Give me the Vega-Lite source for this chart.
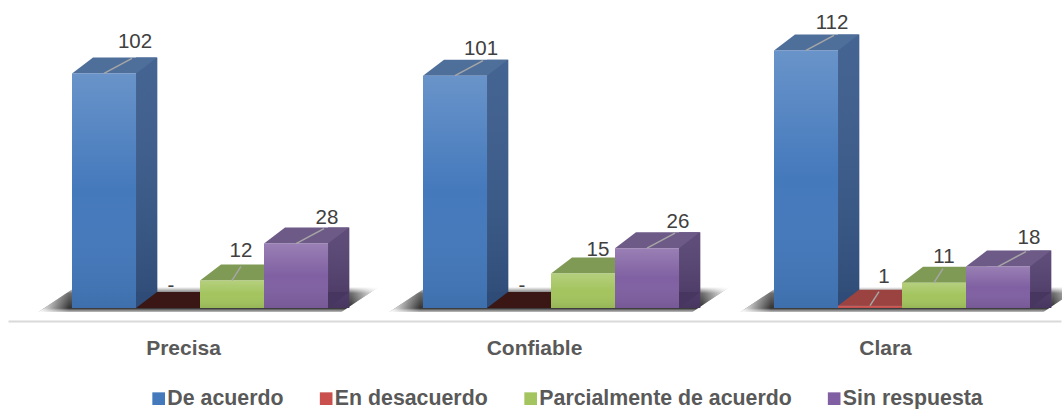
{
"$schema":"https://vega.github.io/schema/vega-lite/v6.json",
"width":1062,"height":321,"autosize":{"type":"none"},"padding":{"left":0,"top":0,"right":0,"bottom":88},
"background":"white","view":{"stroke":null},
"datasets":{"filas":[
{"Categoria":"Precisa","Serie":"De acuerdo","Lado":"De acuerdo (lado)","Valor":102,"Etiqueta":"102"},
{"Categoria":"Precisa","Serie":"En desacuerdo","Lado":"En desacuerdo (lado)","Valor":0,"Etiqueta":"-"},
{"Categoria":"Precisa","Serie":"Parcialmente de acuerdo","Lado":"Parcialmente de acuerdo (lado)","Valor":12,"Etiqueta":"12"},
{"Categoria":"Precisa","Serie":"Sin respuesta","Lado":"Sin respuesta (lado)","Valor":28,"Etiqueta":"28"},
{"Categoria":"Confiable","Serie":"De acuerdo","Lado":"De acuerdo (lado)","Valor":101,"Etiqueta":"101"},
{"Categoria":"Confiable","Serie":"En desacuerdo","Lado":"En desacuerdo (lado)","Valor":0,"Etiqueta":"-"},
{"Categoria":"Confiable","Serie":"Parcialmente de acuerdo","Lado":"Parcialmente de acuerdo (lado)","Valor":15,"Etiqueta":"15"},
{"Categoria":"Confiable","Serie":"Sin respuesta","Lado":"Sin respuesta (lado)","Valor":26,"Etiqueta":"26"},
{"Categoria":"Clara","Serie":"De acuerdo","Lado":"De acuerdo (lado)","Valor":112,"Etiqueta":"112"},
{"Categoria":"Clara","Serie":"En desacuerdo","Lado":"En desacuerdo (lado)","Valor":1,"Etiqueta":"1"},
{"Categoria":"Clara","Serie":"Parcialmente de acuerdo","Lado":"Parcialmente de acuerdo (lado)","Valor":11,"Etiqueta":"11"},
{"Categoria":"Clara","Serie":"Sin respuesta","Lado":"Sin respuesta (lado)","Valor":18,"Etiqueta":"18"}
]},
"data":{"name":"filas"},
"encoding":{
"x":{"field":"Categoria","type":"nominal","sort":null,
 "scale":{"type":"band","domain":["Precisa","Confiable","Clara"],"range":[8,1061],"paddingInner":0,"paddingOuter":0},
 "axis":{"title":null,"ticks":false,"domainColor":"#d9d9d9","domainWidth":2,"labelAngle":0,"labelFont":"Liberation Sans","labelFontWeight":"bold","labelFontSize":21,"labelColor":"#595959","labelPadding":16,"labelBaseline":"top","encode":{"labels":{"update":{"dx":{"signal":"datum.value==='Clara'?5:0"}}}}}},
 "y":{"field":"Valor","type":"quantitative","stack":null,"scale":{"domain":[-5.652,133.91],"nice":false,"zero":false},"axis":null}
},
"layer":[
{"transform":[{"filter":"datum.Serie==='De acuerdo'"}],
 "mark":{"type":"point","shape":"M-145,4 L-108,-21 L195,-21 L158,4Z","size":4,"filled":true,"opacity":1,"fill":{"gradient":"linear","x1":0,"y1":0,"x2":0,"y2":1,"stops":[{"offset":0,"color":"rgba(60,60,60,0)"},{"offset":0.25,"color":"rgba(60,60,60,0.75)"},{"offset":0.85,"color":"rgba(40,40,40,0.95)"},{"offset":1,"color":"rgba(90,90,90,0.4)"}]}},
 "encoding":{"y":{"datum":0,"type":"quantitative"}}},
{"transform":[{"filter":"datum.Serie==='De acuerdo'"}],
 "mark":{"type":"point","shape":"M-145,4 L-108,-21 L195,-21 L158,4Z","size":4,"filled":true,"opacity":1,"fill":{"gradient":"linear","x1":0,"y1":0,"x2":1,"y2":0,"stops":[{"offset":0,"color":"rgba(255,255,255,1)"},{"offset":0.09,"color":"rgba(255,255,255,0)"},{"offset":0.92,"color":"rgba(255,255,255,0)"},{"offset":1,"color":"rgba(255,255,255,1)"}]}},
 "encoding":{"y":{"datum":0,"type":"quantitative"}}},
{"mark":{"type":"bar","width":21.3,"yOffset":-16,"y2Offset":-16},
 "encoding":{"xOffset":{"field":"Lado","type":"nominal","scale":{"domain":["z1","z2","z3","z4","z5","z6","z7","z8","De acuerdo","a1","a2","a3","De acuerdo (lado)","a5","En desacuerdo","b1","b2","b3","En desacuerdo (lado)","b5","Parcialmente de acuerdo","c1","c2","c3","Parcialmente de acuerdo (lado)","c5","Sin respuesta","d1","d2","d3","Sin respuesta (lado)","z9"],"paddingInner":0,"paddingOuter":0.453,"align":0.552}},
  "color":{"field":"Serie","type":"nominal","legend":null,"scale":{"domain":["De acuerdo","En desacuerdo","Parcialmente de acuerdo","Sin respuesta"],"range":["#36588a","#7a2f2c","#6f8e3f","#533f70"]}}}},
{"mark":{"type":"bar","width":21.3,"yOffset":-16,"y2Offset":-16,"fill":{"gradient":"linear","x1":0,"y1":0,"x2":0,"y2":1,"stops":[{"offset":0,"color":"rgba(255,255,255,0.07)"},{"offset":1,"color":"rgba(0,0,0,0.14)"}]}},
 "encoding":{"xOffset":{"field":"Lado","type":"nominal"}}},
{"mark":{"type":"point","shape":"M32,0 L32,-16 L53,-16Z","size":4,"filled":true,"opacity":1},
 "encoding":{"y":{"datum":0,"type":"quantitative"},"xOffset":{"field":"Serie","type":"nominal"},
  "color":{"field":"Serie","type":"nominal","legend":null,"scale":{"domain":["De acuerdo","En desacuerdo","Parcialmente de acuerdo","Sin respuesta"],"range":["#2e4c77","#692825","#5f7a36","#47365f"]}}}},
{"mark":{"type":"point","shape":"M-32,0 L32,0 L53,-16 L-11,-16Z","size":4,"filled":true,"opacity":1},
 "encoding":{"xOffset":{"field":"Serie","type":"nominal"},
  "color":{"condition":{"test":"datum.Valor===0","value":"#3a1714"},"field":"Serie","type":"nominal","legend":null,"scale":{"domain":["De acuerdo","En desacuerdo","Parcialmente de acuerdo","Sin respuesta"],"range":["#4f6f9b","#9a4340","#7f9a55","#6d5a87"]}}}},
{"mark":{"type":"bar","width":64},
 "encoding":{"xOffset":{"field":"Serie","type":"nominal"},
  "color":{"field":"Serie","type":"nominal","title":null,
   "scale":{"domain":["De acuerdo","En desacuerdo","Parcialmente de acuerdo","Sin respuesta"],"range":["#4479bc","#c9504c","#a3c45e","#8060a2"]},
   "legend":{"orient":"none","direction":"horizontal","legendX":148,"legendY":388,"symbolType":"square","symbolSize":160,"symbolStrokeWidth":0,"labelFont":"Liberation Sans","labelFontWeight":"bold","labelFontSize":21.33,"labelColor":"#595959","labelOffset":-2,"columnPadding":31.5,"labelLimit":400,"title":null}}}},
{"mark":{"type":"bar","width":64,"fill":{"gradient":"linear","x1":0,"y1":0,"x2":0,"y2":1,"stops":[{"offset":0,"color":"rgba(255,255,255,0.2)"},{"offset":0.5,"color":"rgba(255,255,255,0)"},{"offset":1,"color":"rgba(0,0,0,0.08)"}]}},
 "encoding":{"xOffset":{"field":"Serie","type":"nominal"}}},
{"transform":[{"filter":"datum.Valor>=18"}],
 "mark":{"type":"point","shape":"M0,0 L28,-15","size":4,"filled":false,"opacity":1,"stroke":"#a6a6a6","strokeWidth":1.5},
 "encoding":{"xOffset":{"field":"Serie","type":"nominal"}}},
{"transform":[{"filter":"datum.Valor>=1&&datum.Valor<=12"}],
 "mark":{"type":"point","shape":"M0,0 L9,-14","size":4,"filled":false,"opacity":1,"stroke":"#a6a6a6","strokeWidth":1.5},
 "encoding":{"xOffset":{"field":"Serie","type":"nominal"}}},
{"transform":[{"filter":"datum.Valor===102"}],
 "mark":{"type":"text","font":"Liberation Sans","fontSize":20.5,"color":"#404040","dx":31,"dy":-31,"baseline":"middle"},
 "encoding":{"xOffset":{"field":"Serie","type":"nominal"},"text":{"field":"Etiqueta"}}},
{"transform":[{"filter":"datum.Valor===101||datum.Valor===112"}],
 "mark":{"type":"text","font":"Liberation Sans","fontSize":20.5,"color":"#404040","dx":26,"dy":-27,"baseline":"middle"},
 "encoding":{"xOffset":{"field":"Serie","type":"nominal"},"text":{"field":"Etiqueta"}}},
{"transform":[{"filter":"datum.Valor===26||datum.Valor===28"}],
 "mark":{"type":"text","font":"Liberation Sans","fontSize":20.5,"color":"#404040","dx":31,"dy":-26,"baseline":"middle"},
 "encoding":{"xOffset":{"field":"Serie","type":"nominal"},"text":{"field":"Etiqueta"}}},
{"transform":[{"filter":"datum.Valor===18"}],
 "mark":{"type":"text","font":"Liberation Sans","fontSize":20.5,"color":"#404040","dx":31,"dy":-29,"baseline":"middle"},
 "encoding":{"xOffset":{"field":"Serie","type":"nominal"},"text":{"field":"Etiqueta"}}},
{"transform":[{"filter":"datum.Valor===12"}],
 "mark":{"type":"text","font":"Liberation Sans","fontSize":20.5,"color":"#404040","dx":9,"dy":-29,"baseline":"middle"},
 "encoding":{"xOffset":{"field":"Serie","type":"nominal"},"text":{"field":"Etiqueta"}}},
{"transform":[{"filter":"datum.Valor===11"}],
 "mark":{"type":"text","font":"Liberation Sans","fontSize":20.5,"color":"#404040","dx":10,"dy":-26,"baseline":"middle"},
 "encoding":{"xOffset":{"field":"Serie","type":"nominal"},"text":{"field":"Etiqueta"}}},
{"transform":[{"filter":"datum.Valor===15"}],
 "mark":{"type":"text","font":"Liberation Sans","fontSize":20.5,"color":"#404040","dx":15,"dy":-23,"baseline":"middle"},
 "encoding":{"xOffset":{"field":"Serie","type":"nominal"},"text":{"field":"Etiqueta"}}},
{"transform":[{"filter":"datum.Valor===1"}],
 "mark":{"type":"text","font":"Liberation Sans","fontSize":20.5,"color":"#404040","dx":14,"dy":-29,"baseline":"middle"},
 "encoding":{"xOffset":{"field":"Serie","type":"nominal"},"text":{"field":"Etiqueta"}}},
{"transform":[{"filter":"datum.Valor===0"}],
 "mark":{"type":"text","font":"Liberation Sans","fontSize":20.5,"color":"#404040","dx":3,"dy":-22,"baseline":"middle"},
 "encoding":{"xOffset":{"field":"Serie","type":"nominal"},"text":{"field":"Etiqueta"}}}
],
"resolve":{"scale":{"color":"independent"}}
}
